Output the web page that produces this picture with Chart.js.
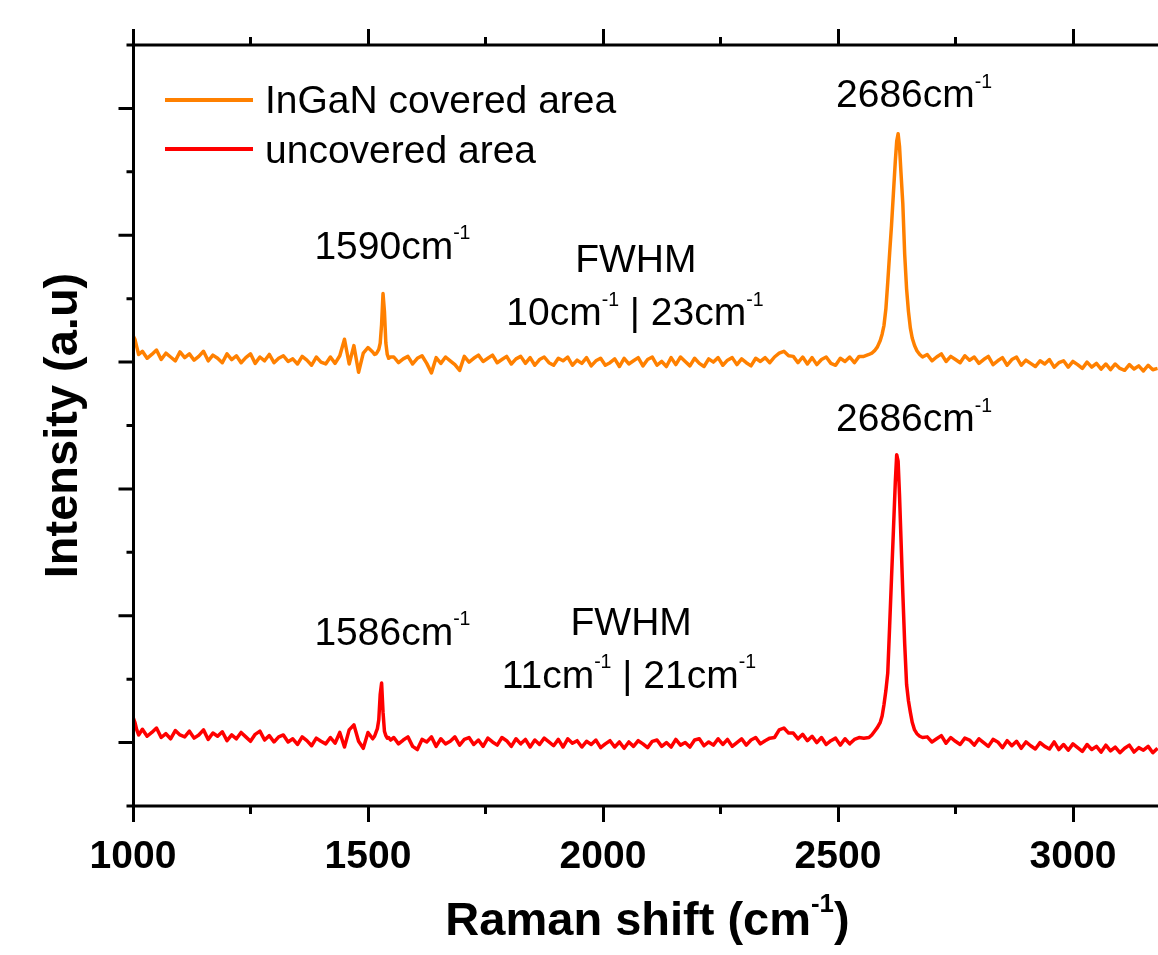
<!DOCTYPE html>
<html><head><meta charset="utf-8">
<script src="https://cdn.jsdelivr.net/npm/chart.js@4.4.0/dist/chart.umd.min.js"></script>
<style>html,body{margin:0;padding:0;background:#fff;overflow:hidden}#wrap{width:1158px;height:955px}</style>
</head><body><div id="wrap"><canvas id="c" width="1158" height="955"></canvas></div>
<script>
// ---------------- DATA ----------------
const ramanShift = [
  1000, 1004, 1008, 1012,
  1020, 1030, 1040, 1050, 1060, 1070, 1080, 1090, 1100, 1110,
  1120, 1130, 1140, 1150, 1160, 1170, 1180, 1190, 1200, 1210,
  1220, 1230, 1240, 1250, 1260, 1270, 1280, 1290, 1300, 1310,
  1320, 1330, 1340, 1350, 1360, 1370, 1380, 1390, 1400, 1410,
  1420, 1430, 1440, 1450, 1460, 1470, 1480, 1490, 1500, 1510,
  1514, 1517, 1520, 1523, 1526, 1529, 1532, 1535, 1538, 1541, 1544, 1548,
  1555, 1565, 1575, 1585, 1595, 1605, 1615, 1625, 1635, 1645,
  1655, 1665, 1675, 1685, 1695, 1705, 1715, 1725, 1735, 1745,
  1755, 1765, 1775, 1785, 1795, 1805, 1815, 1825, 1835, 1845,
  1855, 1865, 1875, 1885, 1895, 1905, 1915, 1925, 1935, 1945,
  1955, 1965, 1975, 1985, 1995, 2005, 2015, 2025, 2035, 2045,
  2055, 2065, 2075, 2085, 2095, 2105, 2115, 2125, 2135, 2145,
  2155, 2165, 2175, 2185, 2195, 2205, 2215, 2225, 2235, 2245,
  2255, 2265, 2275, 2285, 2295, 2305, 2315, 2325, 2335, 2345,
  2355, 2365, 2375, 2385, 2395, 2405, 2415, 2425, 2435, 2445,
  2455, 2465, 2475, 2485, 2495, 2505, 2515, 2525, 2535, 2545,
  2555,
  2566, 2572, 2578, 2584, 2590, 2594, 2598, 2602, 2606, 2610, 2614, 2618, 2622, 2625,
  2628, 2631, 2634, 2638, 2642, 2646, 2650, 2654, 2658, 2663, 2668, 2674, 2680,
  2690, 2700, 2710, 2720, 2730, 2740, 2750, 2760, 2770, 2780,
  2790, 2800, 2810, 2820, 2830, 2840, 2850, 2860, 2870, 2880,
  2890, 2900, 2910, 2920, 2930, 2940, 2950, 2960, 2970, 2980,
  2990, 3000, 3010, 3020, 3030, 3040, 3050, 3060, 3070, 3080,
  3090, 3100, 3110, 3120, 3130, 3140, 3150, 3160, 3170, 3180
];

const intensityInGaN = [
  3.21, 3.18, 3.12, 3.06,
  3.085, 3.030, 3.060, 3.095, 3.020, 3.070, 3.040, 3.010, 3.080, 3.035,
  3.065, 3.015, 3.045, 3.085, 3.010, 3.055, 3.030, 2.995, 3.065, 3.020,
  3.050, 2.995, 3.035, 3.065, 2.990, 3.040, 3.010, 3.060, 2.995, 3.030,
  3.050, 3.005, 3.025, 2.985, 3.045, 3.015, 2.975, 3.040, 3.000, 2.985,
  3.040, 2.990, 3.050, 3.180, 2.985, 3.130, 2.920, 3.070, 3.115, 3.080,
  3.060, 3.065, 3.080, 3.100, 3.150, 3.300, 3.540, 3.400, 3.150, 3.060, 3.030, 3.040,
  3.040, 2.995, 3.025, 3.045, 2.985, 3.030, 3.050, 2.990, 2.915, 3.035,
  2.990, 3.040, 3.010, 2.980, 2.935, 3.045, 3.000, 3.030, 3.055, 3.005,
  3.030, 3.055, 2.995, 3.020, 3.045, 2.985, 3.025, 3.045, 2.990, 3.035,
  2.975, 3.020, 3.040, 2.995, 2.975, 3.030, 3.010, 3.040, 2.975, 3.015,
  2.990, 3.035, 2.970, 3.010, 3.030, 2.975, 2.995, 3.025, 2.965, 3.030,
  2.985, 3.010, 3.035, 2.970, 3.020, 3.040, 2.975, 3.005, 2.965, 3.035,
  2.980, 3.040, 3.005, 2.970, 3.030, 2.990, 2.965, 3.025, 3.000, 3.035,
  2.975, 3.015, 3.035, 2.980, 3.025, 2.995, 2.970, 3.030, 3.005, 3.035,
  2.995, 3.040, 3.070, 3.085, 3.050, 3.045, 2.995, 3.040, 2.985, 3.035,
  2.980, 3.020, 3.040, 2.990, 2.975, 3.030, 3.005, 3.040, 2.995, 3.045,
  3.045,
  3.06, 3.07, 3.09, 3.12, 3.17, 3.22, 3.29, 3.42, 3.63, 3.86, 4.08, 4.33, 4.58, 4.74,
  4.80, 4.70, 4.50, 4.25, 3.85, 3.58, 3.40, 3.27, 3.19, 3.13, 3.09, 3.06, 3.04,
  3.060, 3.010, 3.040, 3.065, 3.005, 3.045, 3.020, 2.995, 3.050, 3.015,
  3.040, 2.990, 3.020, 3.045, 2.980, 3.010, 3.035, 2.975, 3.020, 3.040,
  2.975, 3.015, 2.990, 2.965, 3.010, 2.985, 3.020, 2.960, 2.995, 3.010,
  2.960, 3.005, 2.980, 2.950, 3.000, 2.960, 2.990, 2.945, 2.985, 2.940,
  2.985, 2.950, 2.935, 2.980, 2.945, 2.970, 2.930, 2.975, 2.940, 2.950
];

const intensityUncovered = [
  0.20, 0.16, 0.10, 0.06,
  0.105, 0.050, 0.080, 0.115, 0.040, 0.070, 0.030, 0.095, 0.060, 0.045,
  0.090, 0.035, 0.060, 0.100, 0.025, 0.075, 0.050, 0.085, 0.015, 0.060,
  0.030, 0.080, 0.045, 0.010, 0.065, 0.090, 0.020, 0.055, 0.005, 0.045,
  0.060, 0.005, 0.030, -0.015, 0.045, 0.015, -0.025, 0.035, 0.010, -0.010,
  0.040, -0.005, 0.080, -0.035, 0.100, 0.140, 0.010, -0.045, 0.080, 0.030,
  0.050, 0.080, 0.110, 0.180, 0.380, 0.470, 0.240, 0.090, 0.055, 0.035, 0.040, 0.020,
  0.040, -0.010, 0.020, 0.045, -0.030, -0.055, 0.025, 0.005, 0.045, -0.030,
  0.030, -0.010, 0.010, 0.045, -0.020, 0.025, 0.040, -0.015, 0.020, -0.030,
  0.035, 0.005, -0.020, 0.040, 0.015, -0.030, 0.030, -0.010, 0.025, -0.035,
  0.020, -0.015, 0.035, 0.005, -0.025, 0.025, -0.035, 0.030, -0.005, 0.015,
  -0.035, 0.010, -0.015, 0.020, -0.040, -0.010, 0.015, -0.035, 0.005, -0.045,
  0.005, -0.030, 0.015, -0.010, -0.040, 0.010, 0.020, -0.030, 0.000, -0.035,
  0.025, -0.020, 0.000, -0.035, 0.020, 0.030, -0.025, 0.005, -0.020, 0.030,
  -0.015, 0.025, -0.030, 0.000, 0.030, -0.020, 0.020, 0.040, -0.010, 0.015,
  0.035, 0.040, 0.100, 0.115, 0.075, 0.075, 0.030, 0.065, 0.015, 0.050,
  0.000, 0.040, -0.015, 0.015, 0.035, -0.020, 0.030, -0.010, 0.025, 0.040,
  0.035,
  0.04, 0.06, 0.09, 0.12, 0.16, 0.21, 0.30, 0.41, 0.55, 0.92, 1.30, 1.67, 2.05, 2.27,
  2.22, 1.95, 1.62, 1.18, 0.78, 0.46, 0.33, 0.24, 0.16, 0.10, 0.07, 0.05, 0.04,
  0.045, 0.005, 0.030, 0.055, -0.005, 0.040, 0.010, -0.015, 0.035, 0.020,
  -0.020, 0.030, 0.000, -0.030, 0.025, 0.005, -0.040, 0.015, -0.025, 0.010,
  -0.045, 0.005, -0.025, -0.050, 0.000, -0.030, -0.050, 0.005, -0.055, -0.015,
  -0.060, -0.010, -0.040, -0.070, -0.015, -0.055, -0.030, -0.075, -0.020, -0.065,
  -0.035, -0.080, -0.045, -0.020, -0.075, -0.040, -0.060, -0.030, -0.080, -0.045
];

const seriesNames = ['InGaN covered area', 'uncovered area'];
const seriesColors = ['#FF8000', '#FF0000'];

const xTickValues = [1000, 1500, 2000, 2500, 3000];
const yTickValues = [-0.5, 0, 0.5, 1, 1.5, 2, 2.5, 3, 3.5, 4, 4.5, 5, 5.5];

const xAxisTitle = 'Raman shift (cm^{-1})';
const yAxisTitle = 'Intensity (a.u)';

const annotationTexts = [
  '1590cm^{-1}', 'FWHM', '10cm^{-1} | 23cm^{-1}', '2686cm^{-1}',
  '1586cm^{-1}', 'FWHM', '11cm^{-1} | 21cm^{-1}', '2686cm^{-1}'
];
// anchors in data coordinates (Raman shift, intensity): text centre / baseline
const annotationShift = [1552, 2070, 2068, 2662, 1552, 2060, 2055, 2662];
const annotationLevel = [3.81, 3.707, 3.289, 5.008, 0.773, 0.852, 0.434, 2.453];

// ---------------- RENDER ----------------
const FONT = "'Liberation Sans', Arial, Helvetica, sans-serif";

function parseRich(s) {
  const parts = []; const re = /\^\{([^}]*)\}/g; let last = 0, m;
  while ((m = re.exec(s))) {
    if (m.index > last) parts.push({ t: s.slice(last, m.index), sup: false });
    parts.push({ t: m[1], sup: true }); last = re.lastIndex;
  }
  if (last < s.length) parts.push({ t: s.slice(last), sup: false });
  return parts;
}
function drawRich(ctx, s, x, y, size, weight, align, supScale, supRise) {
  const parts = parseRich(s);
  const fBase = `${weight} ${size}px ${FONT}`;
  const fSup = `${weight} ${size * supScale}px ${FONT}`;
  let w = 0;
  parts.forEach(p => { ctx.font = p.sup ? fSup : fBase; p.w = ctx.measureText(p.t).width; w += p.w; });
  let cx = align === 'center' ? x - w / 2 : x;
  ctx.textAlign = 'left'; ctx.textBaseline = 'alphabetic';
  parts.forEach(p => {
    ctx.font = p.sup ? fSup : fBase;
    ctx.fillText(p.t, cx, p.sup ? y - size * supRise : y);
    cx += p.w;
  });
}

const framePlugin = {
  id: 'frame',
  afterDatasetsDraw(chart) {
    const { ctx, chartArea: a, scales: { x, y } } = chart;
    ctx.save();
    ctx.strokeStyle = '#000'; ctx.lineWidth = 3; ctx.lineCap = 'butt';
    const L = a.left + 0.5;
    ctx.beginPath();
    ctx.moveTo(a.right + 3, a.top); ctx.lineTo(L, a.top); ctx.lineTo(L, a.bottom); ctx.lineTo(a.right + 3, a.bottom);
    ctx.stroke();
    const xt = x.ticks.map(t => t.value);
    const step = xt[1] - xt[0];
    const xs = [];
    xt.forEach(v => { xs.push([v, true]); if (v + step / 2 <= x.max) xs.push([v + step / 2, false]); });
    ctx.beginPath();
    xs.forEach(([v, major]) => {
      const px = Math.round(x.getPixelForValue(v)) + 0.5;
      const len = major ? 16 : 8;
      ctx.moveTo(px, a.bottom); ctx.lineTo(px, a.bottom + len);
      ctx.moveTo(px, a.top); ctx.lineTo(px, a.top - len);
    });
    y.ticks.forEach(t => {
      const py = y.getPixelForValue(t.value);
      const major = Math.abs(t.value - Math.round(t.value)) < 1e-6;
      const len = major ? 15 : 7;
      ctx.moveTo(L, py); ctx.lineTo(L - len, py);
    });
    ctx.stroke();
    ctx.restore();
  },
  afterDraw(chart) {
    const { ctx, chartArea: a, scales: { x, y } } = chart;
    ctx.save();
    ctx.fillStyle = '#000';
    const legendLineY = [100, 149], legendTextY = [113, 163];
    chart.data.datasets.forEach((ds, i) => {
      ctx.strokeStyle = ds.borderColor; ctx.lineWidth = 4;
      ctx.beginPath(); ctx.moveTo(165, legendLineY[i]); ctx.lineTo(253, legendLineY[i]); ctx.stroke();
      ctx.fillStyle = '#000';
      drawRich(ctx, ds.label, 265, legendTextY[i], 39, 'normal', 'left', 0.5, 0.5);
    });
    annotationTexts.forEach((t, i) => {
      drawRich(ctx, t, x.getPixelForValue(annotationShift[i]), y.getPixelForValue(annotationLevel[i]), 39, 'normal', 'center', 0.5, 0.51);
    });
    drawRich(ctx, xAxisTitle, (a.left + a.right) / 2 + 2, 935, 47, 'bold', 'center', 0.55, 0.5);
    ctx.save();
    ctx.translate(77, (a.top + a.bottom) / 2);
    ctx.rotate(-Math.PI / 2);
    drawRich(ctx, yAxisTitle, 0, 0, 47, 'bold', 'center', 0.55, 0.5);
    ctx.restore();
    ctx.restore();
  }
};

const mk = (ys) => ramanShift.map((v, i) => ({ x: v, y: ys[i] }));

new Chart(document.getElementById('c'), {
  type: 'line',
  data: {
    datasets: [
      { label: seriesNames[0], data: mk(intensityInGaN), borderColor: seriesColors[0], backgroundColor: seriesColors[0],
        borderWidth: 3.5, pointRadius: 0, tension: 0, fill: false, borderJoinStyle: 'round' },
      { label: seriesNames[1], data: mk(intensityUncovered), borderColor: seriesColors[1], backgroundColor: seriesColors[1],
        borderWidth: 3.5, pointRadius: 0, tension: 0, fill: false, borderJoinStyle: 'round' }
    ]
  },
  options: {
    responsive: false, animation: false, devicePixelRatio: 1,
    layout: { padding: { top: 45, left: 0, right: 0, bottom: 0 } },
    plugins: { legend: { display: false }, tooltip: { enabled: false } },
    scales: {
      x: {
        type: 'linear', min: 1000, max: 3181,
        grid: { display: false }, border: { display: false },
        afterBuildTicks(s) { s.ticks = xTickValues.map(v => ({ value: v })); },
        ticks: { autoSkip: false, maxRotation: 0, minRotation: 0, color: '#000', padding: 20,
                 font: { family: FONT, size: 39, weight: 'bold' }, callback: v => String(v) },
        afterFit(s) { s.height = 149; }
      },
      y: {
        type: 'linear', min: -0.5, max: 5.5,
        grid: { display: false }, border: { display: false },
        afterBuildTicks(s) { s.ticks = yTickValues.map(v => ({ value: v })); },
        ticks: { display: false },
        afterFit(s) { s.width = 133; }
      }
    }
  },
  plugins: [framePlugin]
});
</script>
</body></html>
